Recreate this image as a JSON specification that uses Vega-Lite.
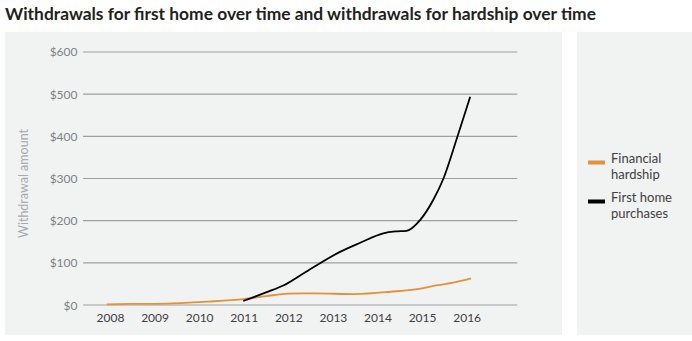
{
  "$schema": "https://vega.github.io/schema/vega-lite/v6.json",
  "padding": {"left": 5, "top": 5, "right": 0, "bottom": 6},
  "background": "white",
  "title": {
    "text": "Withdrawals for first home over time and withdrawals for hardship over time",
    "anchor": "start",
    "frame": "group",
    "font": "Lato",
    "fontSize": 17.4,
    "fontWeight": "bold",
    "color": "#231f20",
    "offset": 9
  },
  "config": {"view": {"stroke": null}},
  "spacing": 15,
  "hconcat": [
    {
      "width": 557,
      "height": 303,
      "view": {"fill": "#f1f2f2", "stroke": null},
      "layer": [
        {
          "data": {"values": [{"v": 0}, {"v": 100}, {"v": 200}, {"v": 300}, {"v": 400}, {"v": 500}, {"v": 600}]},
          "mark": {"type": "rule", "color": "#9d9fa2", "strokeWidth": 1.2},
          "encoding": {
            "y": {
              "field": "v",
              "type": "quantitative",
              "scale": {"domain": [-71.1, 647.4], "nice": false, "zero": false},
              "axis": {
                "values": [0, 100, 200, 300, 400, 500, 600],
                "format": "$.0f",
                "offset": -78,
                "domain": false,
                "ticks": false,
                "grid": false,
                "labelPadding": 6,
                "labelFont": "Lato",
                "labelFontSize": 12,
                "labelColor": "#808285",
                "title": "Withdrawal amount",
                "titleFont": "Lato",
                "titleFontSize": 12.5,
                "titleFontWeight": "normal",
                "titleColor": "#a7a9ac",
                "titleX": -60,
                "titleY": 151,
                "titleAngle": -90,
                "titleAlign": "center",
                "titleBaseline": "middle"
              }
            },
            "x": {
              "datum": 2007.394,
              "type": "quantitative",
              "scale": {"domain": [2005.645, 2018.139], "nice": false, "zero": false},
              "axis": {
                "values": [2008, 2009, 2010, 2011, 2012, 2013, 2014, 2015, 2016],
                "format": "d",
                "offset": -30,
                "domain": false,
                "ticks": false,
                "grid": false,
                "labelPadding": 7,
                "labelFont": "Lato",
                "labelFontSize": 12,
                "labelColor": "#414042",
                "title": null
              }
            },
            "x2": {"datum": 2017.136}
          }
        },
        {
          "data": {
            "values": [
              {"series": "Financial hardship", "year": 2007.93, "amount": 1.6},
              {"series": "Financial hardship", "year": 2008.5, "amount": 2.5},
              {"series": "Financial hardship", "year": 2009.4, "amount": 4},
              {"series": "Financial hardship", "year": 2010.2, "amount": 8},
              {"series": "Financial hardship", "year": 2011.0, "amount": 14},
              {"series": "Financial hardship", "year": 2011.5, "amount": 21},
              {"series": "Financial hardship", "year": 2012.0, "amount": 27},
              {"series": "Financial hardship", "year": 2012.6, "amount": 27.5},
              {"series": "Financial hardship", "year": 2013.5, "amount": 26},
              {"series": "Financial hardship", "year": 2014.3, "amount": 31.5},
              {"series": "Financial hardship", "year": 2015.0, "amount": 39.5},
              {"series": "Financial hardship", "year": 2015.35, "amount": 47},
              {"series": "Financial hardship", "year": 2015.7, "amount": 53},
              {"series": "Financial hardship", "year": 2016.1, "amount": 63},
              {"series": "First home purchases", "year": 2010.99, "amount": 9.5},
              {"series": "First home purchases", "year": 2011.5, "amount": 30},
              {"series": "First home purchases", "year": 2011.9, "amount": 47},
              {"series": "First home purchases", "year": 2012.4, "amount": 79},
              {"series": "First home purchases", "year": 2013.16, "amount": 126},
              {"series": "First home purchases", "year": 2013.6, "amount": 147},
              {"series": "First home purchases", "year": 2014.13, "amount": 170},
              {"series": "First home purchases", "year": 2014.4, "amount": 174.5},
              {"series": "First home purchases", "year": 2014.65, "amount": 176},
              {"series": "First home purchases", "year": 2014.96, "amount": 202},
              {"series": "First home purchases", "year": 2015.25, "amount": 249},
              {"series": "First home purchases", "year": 2015.48, "amount": 300},
              {"series": "First home purchases", "year": 2015.78, "amount": 395},
              {"series": "First home purchases", "year": 2016.08, "amount": 494}
            ]
          },
          "mark": {"type": "line", "interpolate": "monotone", "strokeWidth": 1.8},
          "encoding": {
            "x": {
              "field": "year",
              "type": "quantitative",
              "axis": {
                "values": [2008, 2009, 2010, 2011, 2012, 2013, 2014, 2015, 2016],
                "format": "d",
                "offset": -30,
                "domain": false,
                "ticks": false,
                "grid": false,
                "labelPadding": 7,
                "labelFont": "Lato",
                "labelFontSize": 12,
                "labelColor": "#414042",
                "title": null
              }
            },
            "y": {
              "field": "amount",
              "type": "quantitative",
              "axis": {
                "values": [0, 100, 200, 300, 400, 500, 600],
                "format": "$.0f",
                "offset": -78,
                "domain": false,
                "ticks": false,
                "grid": false,
                "labelPadding": 6,
                "labelFont": "Lato",
                "labelFontSize": 12,
                "labelColor": "#808285",
                "title": "Withdrawal amount",
                "titleFont": "Lato",
                "titleFontSize": 12.5,
                "titleFontWeight": "normal",
                "titleColor": "#a7a9ac",
                "titleX": -60,
                "titleY": 151,
                "titleAngle": -90,
                "titleAlign": "center",
                "titleBaseline": "middle"
              }
            },
            "color": {
              "field": "series",
              "type": "nominal",
              "scale": {"domain": ["Financial hardship", "First home purchases"], "range": ["#e4913a", "#000000"]},
              "legend": {
                "orient": "none",
                "legendX": 581,
                "legendY": 120,
                "title": null,
                "padding": 0,
                "symbolType": "stroke",
                "symbolSize": 289,
                "symbolStrokeWidth": 4,
                "labelFont": "Lato",
                "labelFontSize": 13,
                "labelColor": "#414042",
                "labelBaseline": "alphabetic",
                "labelOffset": 4,
                "rowPadding": 9,
                "labelExpr": "datum.label == 'Financial hardship' ? ['Financial', 'hardship'] : ['First home', 'purchases']",
                "encode": {"labels": {"update": {"lineHeight": {"value": 16}}}}
              }
            }
          }
        }
      ]
    },
    {
      "width": 115,
      "height": 303,
      "view": {"fill": "#f1f2f2", "stroke": null},
      "data": {"values": []},
      "mark": "point"
    }
  ]
}
